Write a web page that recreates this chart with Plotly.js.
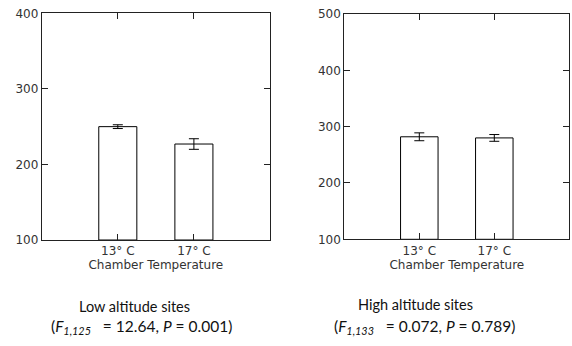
<!DOCTYPE html>
<html>
<head>
<meta charset="utf-8">
<script src="https://cdn.plot.ly/plotly-3.0.1.min.js"></script>
<style>html,body{margin:0;padding:0;background:#fff;}#chart{width:572px;height:346px;}</style>
</head>
<body>
<div id="chart"></div>
<script>
var categories = ['13° C', '17° C'];
var lowMeans = [250, 227];
var lowErr = [2.5, 7];
var highMeans = [282, 280];
var highErr = [7, 6];
var lowTicks = [100, 200, 300, 400];
var highTicks = [100, 200, 300, 400, 500];
var xTitle = 'Chamber Temperature';
var lowLabel = 'Low altitude sites';
var lowStats = '(<i>F</i><sub><i>1,125</i></sub>\u00a0\u00a0 = 12.64, <i>P</i> = 0.001)';
var highLabel = 'High altitude sites';
var highStats = '(<i>F</i><sub><i>1,133</i></sub>\u00a0\u00a0 = 0.072, <i>P</i> = 0.789)';

var barStyle = {color: '#ffffff', line: {color: '#000000', width: 1}};
var errStyle = function (arr) {
  return {type: 'data', array: arr, visible: true, color: '#000000', thickness: 1, width: 5};
};

var traces = [
  {type: 'bar', x: categories, y: lowMeans.map(function (v) { return v - 100; }),
   base: 100, error_y: errStyle(lowErr), marker: barStyle,
   width: 0.5, xaxis: 'x', yaxis: 'y', showlegend: false, hoverinfo: 'none'},
  {type: 'bar', x: categories, y: highMeans.map(function (v) { return v - 100; }),
   base: 100, error_y: errStyle(highErr), marker: barStyle,
   width: 0.5, xaxis: 'x2', yaxis: 'y2', showlegend: false, hoverinfo: 'none'}
];

var tickFont = {family: 'DejaVu Sans', size: 12, color: '#333333'};
var axisCommon = {
  showline: true, linecolor: '#222222', linewidth: 1, mirror: 'ticks',
  ticks: 'inside', ticklen: 6, tickcolor: '#222222', showgrid: false,
  zeroline: false, tickfont: tickFont, fixedrange: true
};

function xa(domain, anchor) {
  return Object.assign({}, axisCommon, {
    domain: domain, anchor: anchor, type: 'category', range: [-1, 2],
    title: {text: xTitle, font: tickFont, standoff: 2}
  });
}
function ya(domain, anchor, range, ticks) {
  return Object.assign({}, axisCommon, {
    domain: domain, anchor: anchor, range: range, tickvals: ticks,
    ticktext: ticks.map(String), ticklabelstandoff: 0
  });
}

var textFont1 = {family: 'Lato', size: 14.5, color: '#111'};
var textFont2 = {family: 'Lato', size: 15.5, color: '#111'};

var layout = {
  width: 572, height: 346,
  margin: {l: 0, r: 0, t: 0, b: 0},
  paper_bgcolor: '#ffffff', plot_bgcolor: '#ffffff',
  xaxis: xa([41.7 / 572, 270 / 572], 'y'),
  yaxis: ya([106 / 346, 332.7 / 346], 'x', [100, 400], lowTicks),
  xaxis2: xa([344.3 / 572, 569.3 / 572], 'y2'),
  yaxis2: ya([106.7 / 346, 332 / 346], 'x2', [100, 500], highTicks),
  bargap: 0,
  annotations: [
    {text: lowLabel, x: 134 / 572, y: 1 - 315.5 / 346, xref: 'paper', yref: 'paper', showarrow: false,
     xanchor: 'center', yanchor: 'bottom', borderpad: 0, font: textFont1},
    {text: lowStats, x: 141.5 / 572, y: 1 - 315.5 / 346, xref: 'paper', yref: 'paper', showarrow: false,
     xanchor: 'center', yanchor: 'top', borderpad: 0, font: textFont2},
    {text: highLabel, x: 415 / 572, y: 1 - 314 / 346, xref: 'paper', yref: 'paper', showarrow: false,
     xanchor: 'center', yanchor: 'bottom', borderpad: 0, font: textFont1},
    {text: highStats, x: 424 / 572, y: 1 - 315.5 / 346, xref: 'paper', yref: 'paper', showarrow: false,
     xanchor: 'center', yanchor: 'top', borderpad: 0, font: textFont2}
  ]
};

Plotly.newPlot('chart', traces, layout, {staticPlot: true, displayModeBar: false});
</script>
</body>
</html>
